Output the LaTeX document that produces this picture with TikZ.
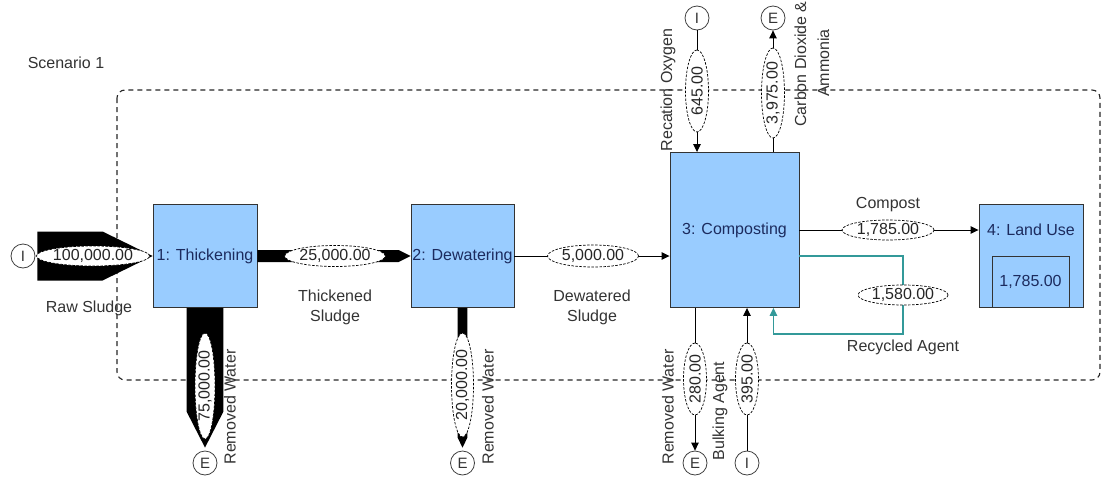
\documentclass[tikz,border=0pt]{standalone}
\usepackage{fontspec}
\setmainfont{Liberation Sans}
\usetikzlibrary{arrows.meta,shapes.geometric,calc}
\definecolor{boxfill}{HTML}{99CCFF}
\definecolor{boxtext}{HTML}{1C2B5E}
\definecolor{labeltext}{HTML}{333333}
\definecolor{recycle}{HTML}{339999}
\begin{document}
\begin{tikzpicture}[x=1pt,y=-1pt,
  font=\fontsize{16}{20}\selectfont,
  unit/.style={draw=black!80, fill=boxfill, text=boxtext, line width=0.9pt, inner sep=0pt},
  term/.style={circle, draw=black!75, line width=0.8pt, minimum size=24pt, inner sep=0pt,
    text=labeltext, font=\fontsize{15}{15}\selectfont},
  qty/.style={ellipse, draw=black, fill=white, line width=0.7pt, dash pattern=on 2.5pt off 1.5pt,
    inner sep=0pt, text=black!85},
  tag/.style={text=labeltext, align=center, inner sep=0pt},
  flow/.style={draw=black, line width=1pt, -{Triangle[length=8pt,width=7.5pt]}},
  back/.style={draw=recycle, line width=1.4pt, -{Triangle[length=8pt,width=7.5pt]}}]
\useasboundingbox (0,0) rectangle (1103,477);

% system boundary
\draw[black!85, line width=1.1pt, dash pattern=on 5pt off 4pt, rounded corners=8pt]
  (117,90) rectangle (1100,380);
\node[tag] (scen) at (66,63) {Scenario 1};

% process units
\node[unit, minimum width=104pt, minimum height=103pt] (thick) at (205,256) {1: Thickening};
\node[unit, minimum width=103pt, minimum height=103pt] (dewat) at (462.5,256) {2: Dewatering};
\node[unit, minimum width=129pt, minimum height=155pt] (comp) at (734.5,230) {3: Composting};
\node[unit, minimum width=104pt, minimum height=103pt] (land) at (1031,256) {};
\node[text=boxtext, inner sep=0pt] (landname) at (1031,230) {4: Land Use};
\node[draw=black!80, line width=0.9pt, minimum width=77pt, minimum height=51pt, inner sep=0pt,
  text=boxtext] (store) at (1030.5,282) {1,785.00};

% sources and sinks
\node[term] (iraw) at (23,256) {I};
\node[term] (ewat1) at (205,463) {E};
\node[term] (ewat2) at (462.5,463) {E};
\node[term] (iox) at (697,18) {I};
\node[term] (eco) at (773,18) {E};
\node[term] (ewat3) at (695,463) {E};
\node[term] (ibulk) at (747,463) {I};

% wide flows, drawn to scale
\fill[black] ($(iraw.east)+(2,-24.5)$) -- ($(thick.west |- iraw.east)+(-50,-24.5)$)
  -- (thick.west |- iraw.east) -- ($(thick.west |- iraw.east)+(-50,24.5)$)
  -- ($(iraw.east)+(2,24.5)$) -- cycle;
\fill[black] ($(thick.east)+(0,-6)$) -- ($(dewat.west)+(-12,-6)$) -- (dewat.west)
  -- ($(dewat.west)+(-12,6)$) -- ($(thick.east)+(0,6)$) -- cycle;
\fill[black] ($(thick.south)+(-18.4,0)$) -- ($(ewat1.north)+(-18.4,-39)$) -- ($(ewat1.north)+(0,-3)$)
  -- ($(ewat1.north)+(18.4,-39)$) -- ($(thick.south)+(18.4,0)$) -- cycle;
\fill[black] ($(dewat.south)+(-4.9,0)$) -- ($(ewat2.north)+(-4.9,-13)$) -- ($(ewat2.north)+(0,-3)$)
  -- ($(ewat2.north)+(4.9,-13)$) -- ($(dewat.south)+(4.9,0)$) -- cycle;

% narrow flows
\draw[flow] (dewat.east) -- (dewat.east -| comp.west);
\draw[flow] (comp.east) -- (comp.east -| land.west);
\draw[flow] (iox) -- (iox |- comp.north);
\draw[flow] (eco |- comp.north) -- (eco);
\draw[flow] (ewat3 |- comp.south) -- (ewat3);
\draw[flow] (ibulk) -- (ibulk |- comp.south);
\coordinate (loop) at (903,334);
\draw[back] (dewat.east -| comp.east) -| (loop) -| ($(comp.south east)+(-26,0)$);

% flow quantities
\node[qty, minimum width=110pt, minimum height=20pt] (q1) at (93,256) {100,000.00};
\node[qty, minimum width=100pt, minimum height=21pt] (q2) at (335,256) {25,000.00};
\node[qty, minimum width=91pt, minimum height=22pt] (q3) at (593,256) {5,000.00};
\node[qty, minimum width=92pt, minimum height=20pt] (q4) at (888,230) {1,785.00};
\node[qty, minimum width=90pt, minimum height=20pt] (q5) at (903,295) {1,580.00};
\node[qty, rotate=90, minimum width=106pt, minimum height=20pt] (q6) at (205,386) {75,000.00};
\node[qty, rotate=90, minimum width=104pt, minimum height=22pt] (q7) at (462.5,385) {20,000.00};
\node[qty, rotate=90, minimum width=82pt, minimum height=23pt] (q8) at (697,91) {645.00};
\node[qty, rotate=90, minimum width=90pt, minimum height=23pt] (q9) at (773,93) {3,975.00};
\node[qty, rotate=90, minimum width=72pt, minimum height=23pt] (q10) at (695,379) {280.00};
\node[qty, rotate=90, minimum width=72pt, minimum height=23pt] (q11) at (747,379) {395.00};

% flow names
\node[tag] (l1) at (89,308) {Raw Sludge};
\node[tag] (l2) at (335,307) {Thickened\\Sludge};
\node[tag] (l3) at (592,307) {Dewatered\\Sludge};
\node[tag] (l4) at (888,205) {Compost};
\node[tag] (l5) at (903,347) {Recycled Agent};
\node[tag, rotate=90] (l6) at (230,407) {Removed Water};
\node[tag, rotate=90] (l7) at (488,407) {Removed Water};
\node[tag, rotate=90] (l8) at (668,90) {Recation Oxygen};
\node[tag, rotate=90, anchor=base] (l9a) at (806,64) {Carbon Dioxide \&};
\node[tag, rotate=90, anchor=base] (l9b) at (829,63) {Ammonia};
\node[tag, rotate=90] (l10) at (668,407) {Removed Water};
\node[tag, rotate=90] (l11) at (720,411) {Bulking Agent};
\end{tikzpicture}
\end{document}
